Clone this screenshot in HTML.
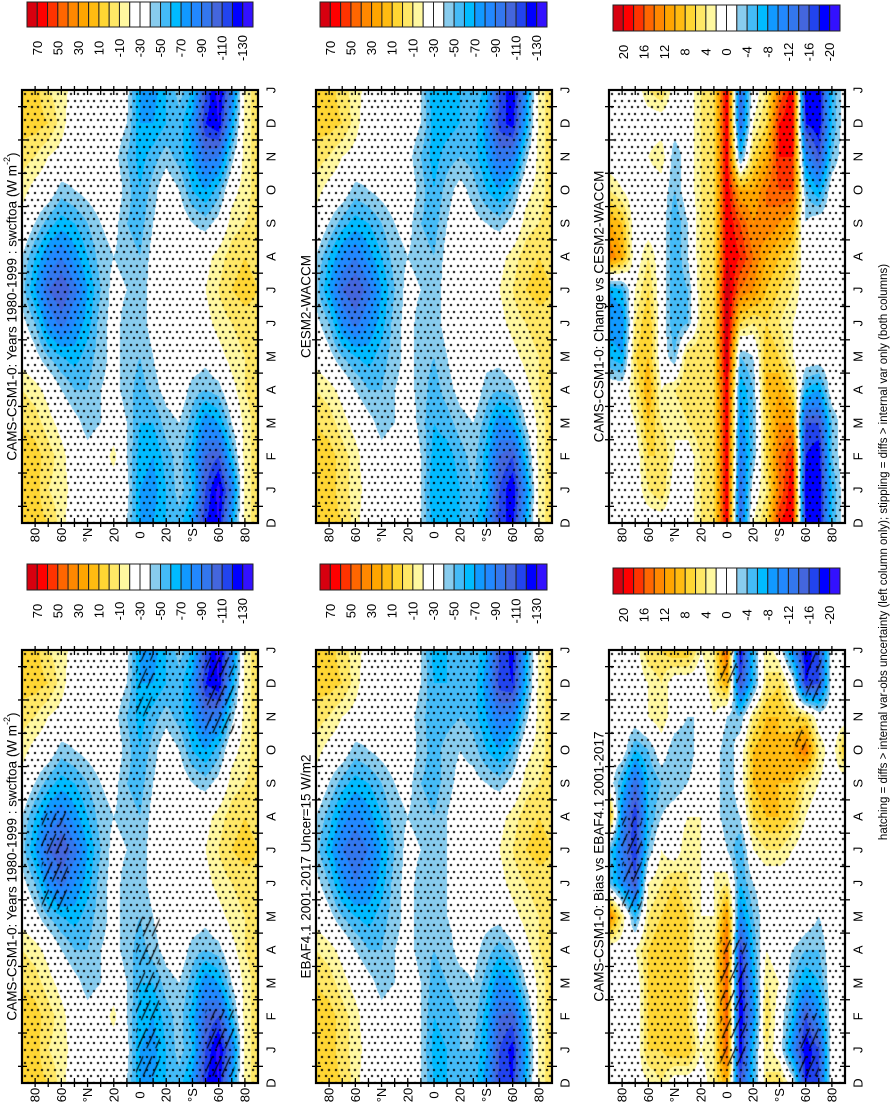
<!DOCTYPE html>
<html><head><meta charset="utf-8">
<style>
html,body{margin:0;padding:0;background:#fff;}
#root{position:relative;width:895px;height:1105px;overflow:hidden;font-family:"Liberation Sans",Arial,sans-serif;}
canvas{position:absolute;}
svg{position:absolute;left:0;top:0;}
</style></head>
<body>
<div id="root">
<canvas id="c0"></canvas>
<canvas id="c1"></canvas>
<canvas id="c2"></canvas>
<canvas id="c3"></canvas>
<canvas id="c4"></canvas>
<canvas id="c5"></canvas>
<svg id="ov" width="895" height="1105"></svg>
</div>
<script>
// ---- data ----
const lats = [90,80,70,60,50,40,30,20,10,0,-10,-20,-30,-40,-50,-60,-70,-80,-90];
const monthLabels = ["D","J","F","M","A","M","J","J","A","S","O","N","D","J"];
const latTickLabels = ["80","60","°N","20","0","20","°S","60","80"];
const latTickValues = [80,60,40,20,0,-20,-40,-60,-80];
const climLevelLabels = ["70","50","30","10","-10","-30","-50","-70","-90","-110","-130"];
const diffLevelLabels = ["20","16","12","8","4","0","-4","-8","-12","-16","-20"];
const palette = ['#d7000f','#ff0000','#ff3300','#ff6600','#ff8800','#ffa500','#ffbb11','#ffd633','#ffe866','#fff8a0','#ffffff','#ffffff','#88ccee','#44bbf7','#00bbff','#1199ff','#2288ff','#3377ee','#4466dd','#2244ee','#0000ff','#3311ff'];

// rows: Jan..Dec ; columns: lats 90N..90S
const camsClim = [
[5,5,-10,-15,-25,-30,-30,-30,-35,-70,-75,-60,-45,-60,-110,-135,-90,-15,-5],
[5,5,-5,-15,-30,-35,-30,-15,-40,-65,-70,-55,-45,-65,-100,-110,-60,-15,-5],
[0,-5,-15,-25,-35,-45,-40,-30,-40,-60,-60,-45,-40,-55,-80,-70,-40,-15,-5],
[-10,-15,-25,-40,-50,-50,-40,-35,-45,-55,-45,-35,-30,-45,-50,-45,-25,-10,-5],
[-25,-35,-50,-60,-65,-55,-45,-35,-45,-50,-40,-30,-30,-30,-35,-25,-15,-10,-5],
[-35,-50,-80,-95,-80,-65,-45,-35,-45,-45,-35,-30,-30,-30,-25,-15,-10,-5,-5],
[-45,-70,-100,-110,-95,-70,-50,-35,-40,-45,-35,-30,-30,-30,-20,-10,0,5,0],
[-40,-60,-80,-90,-75,-60,-45,-40,-45,-50,-35,-30,-30,-30,-25,-15,-5,0,-5],
[-25,-40,-55,-65,-60,-50,-40,-35,-50,-55,-40,-30,-30,-40,-45,-35,-15,-10,-5],
[-15,-25,-30,-45,-40,-35,-30,-30,-45,-60,-45,-30,-40,-60,-70,-55,-25,-15,-5],
[-5,-10,-20,-25,-30,-30,-30,-35,-50,-65,-55,-45,-55,-70,-95,-90,-45,-15,-5],
[5,5,0,-15,-30,-30,-30,-30,-40,-70,-70,-60,-55,-75,-120,-130,-70,-15,-5]
];
const cesmClim = [
[5,5,-5,-15,-25,-30,-30,-30,-40,-70,-70,-60,-50,-65,-110,-130,-80,-15,-5],
[5,5,-5,-15,-30,-35,-30,-20,-40,-65,-65,-55,-45,-65,-100,-110,-60,-15,-5],
[0,-5,-15,-25,-35,-45,-40,-30,-45,-60,-55,-45,-40,-55,-80,-70,-40,-15,-5],
[-10,-15,-25,-40,-50,-50,-40,-35,-45,-55,-45,-35,-30,-45,-50,-45,-25,-10,-5],
[-25,-35,-50,-60,-65,-55,-45,-35,-45,-50,-40,-30,-30,-35,-35,-25,-15,-10,-5],
[-35,-50,-80,-95,-80,-65,-45,-35,-45,-45,-35,-30,-30,-30,-25,-15,-10,-5,-5],
[-45,-70,-100,-110,-95,-70,-50,-35,-40,-45,-35,-30,-30,-30,-20,-10,0,5,0],
[-40,-60,-80,-90,-75,-60,-45,-40,-45,-50,-35,-30,-30,-30,-25,-15,-5,0,-5],
[-25,-40,-55,-65,-60,-50,-40,-35,-50,-55,-40,-30,-35,-40,-45,-35,-15,-10,-5],
[-15,-25,-30,-45,-40,-35,-30,-30,-45,-60,-45,-35,-45,-60,-70,-55,-25,-15,-5],
[-5,-10,-20,-25,-30,-30,-30,-35,-50,-65,-55,-50,-55,-70,-95,-90,-45,-15,-5],
[5,5,0,-15,-30,-30,-30,-30,-40,-65,-65,-60,-55,-75,-115,-125,-70,-15,-5]
];
const ebafClim = [
[5,5,-5,-15,-25,-30,-30,-30,-40,-65,-60,-50,-50,-70,-110,-125,-70,-15,-5],
[5,5,-5,-15,-30,-35,-30,-25,-40,-60,-55,-50,-45,-65,-100,-105,-60,-15,-5],
[0,-5,-15,-25,-35,-45,-40,-30,-40,-55,-50,-45,-40,-55,-80,-70,-40,-15,-5],
[-10,-15,-25,-40,-50,-50,-40,-35,-45,-50,-45,-35,-35,-45,-55,-45,-25,-10,-5],
[-25,-35,-50,-60,-65,-55,-45,-35,-45,-50,-40,-35,-35,-35,-35,-25,-15,-10,-5],
[-35,-50,-75,-90,-80,-65,-45,-35,-45,-45,-40,-35,-30,-30,-25,-15,-10,-5,-5],
[-45,-65,-90,-100,-90,-70,-50,-35,-40,-45,-40,-30,-30,-30,-20,-10,0,5,0],
[-40,-55,-75,-85,-75,-60,-45,-40,-45,-50,-40,-30,-30,-30,-25,-15,-5,0,-5],
[-25,-40,-55,-65,-60,-50,-40,-35,-50,-55,-45,-35,-35,-40,-45,-35,-15,-10,-5],
[-15,-25,-30,-45,-40,-35,-30,-30,-45,-55,-45,-40,-45,-60,-70,-55,-25,-15,-5],
[-5,-10,-20,-25,-30,-30,-30,-35,-45,-60,-55,-50,-55,-70,-90,-85,-45,-15,-5],
[5,5,0,-15,-30,-30,-30,-30,-40,-60,-60,-55,-55,-75,-115,-120,-65,-15,-5]
];
const changeVsCesm = [
[0,0,0,4,6,0,0,4,6,20,-14,0,4,14,20,-20,-20,-6,0],
[0,0,0,6,6,2,0,4,6,20,-12,-4,6,14,18,-18,-20,-4,0],
[0,0,2,8,4,2,4,6,6,20,-10,-4,6,12,12,-16,-16,-4,0],
[0,0,4,10,2,4,6,6,6,20,-8,-4,8,10,6,-6,-8,0,0],
[-6,-8,6,8,0,-4,6,6,6,22,-4,-2,8,6,2,0,0,0,0],
[-10,-10,4,8,0,-6,-4,4,6,22,6,4,6,4,2,0,0,0,0],
[-8,-6,2,6,0,-6,-4,4,6,22,14,12,8,6,4,0,0,0,0],
[14,10,0,4,0,-6,-2,4,6,20,18,14,10,8,6,0,0,0,0],
[10,8,0,0,0,-6,-2,4,6,20,16,12,14,12,10,-2,0,0,0],
[4,2,0,0,0,-4,0,4,6,20,10,10,14,16,16,-4,-8,0,0],
[0,0,0,2,4,-4,0,4,6,20,-6,6,10,18,18,-10,-16,-4,0],
[0,0,0,0,0,0,0,4,6,20,-14,2,6,18,20,-18,-20,-6,0]
];
const biasVsEbaf = [
[0,0,0,6,6,8,8,2,4,16,-20,-6,4,0,-10,-20,-16,0,0],
[0,0,0,6,8,8,6,0,4,16,-20,-10,6,0,-6,-16,-10,0,0],
[0,0,0,6,8,8,6,2,4,16,-20,-8,4,2,-4,-8,-6,0,0],
[0,0,2,6,8,8,6,2,4,16,-18,-6,2,0,-2,-4,-4,0,0],
[14,4,-6,4,6,8,6,2,2,12,-10,-4,0,0,2,0,-2,0,0],
[-4,-10,-16,2,4,6,4,2,2,4,-6,-2,0,0,0,0,0,0,0],
[-4,-12,-18,-4,2,0,4,2,2,-2,-6,2,4,4,2,0,-2,0,0],
[10,-10,-18,-6,-2,0,2,2,0,-4,-2,6,8,8,6,2,0,0,0],
[0,-6,-14,-6,-4,-4,-2,0,0,-4,0,8,10,8,8,4,2,0,0],
[0,0,-6,-4,0,-4,-4,0,0,-4,0,8,10,8,10,14,4,0,8],
[0,0,0,2,4,0,-2,-2,2,-2,-4,4,8,8,6,6,0,0,0],
[0,0,0,2,4,0,0,0,4,10,-16,-6,4,6,0,-18,-16,0,0]
];
// hatch regions: [latNorth, latSouth, tStart, tEnd] (t in months from bottom axis)
const hatchCamsClim = [[75,55,5.2,8.1],[3,-15,0.2,5.0],[-50,-72,0.2,2.2],[-50,-72,10.5,13],[3,-10,11,13]];
const hatchBias = [[80,65,5.2,8.0],[5,-15,0.5,4.3],[-55,-70,0.2,2.1],[5,-10,12,13],[-60,-72,11.5,13],[-52,-60,10,11]];

// ---- layout ----
const PW=236, PH=433;
const colX=[22,316,609], rowY=[90,650];
const panels=[
 {id:'c0',x:colX[0],y:rowY[0],data:camsClim,diff:false,hatch:[],title:"CAMS-CSM1-0: Years 1980-1999 : swcftoa (W m",sup:"-2",close:")",name:'cams-clim'},
 {id:'c1',x:colX[1],y:rowY[0],data:cesmClim,diff:false,hatch:[],title:"CESM2-WACCM",name:'cesm2-clim'},
 {id:'c2',x:colX[2],y:rowY[0],data:changeVsCesm,diff:true,hatch:[],title:"CAMS-CSM1-0: Change vs CESM2-WACCM",name:'change'},
 {id:'c3',x:colX[0],y:rowY[1],data:camsClim,diff:false,hatch:hatchCamsClim,title:"CAMS-CSM1-0: Years 1980-1999 : swcftoa (W m",sup:"-2",close:")",name:'cams-clim-hatched'},
 {id:'c4',x:colX[1],y:rowY[1],data:ebafClim,diff:false,hatch:[],title:"EBAF4.1 2001-2017 Uncer=15 W/m2",name:'ebaf'},
 {id:'c5',x:colX[2],y:rowY[1],data:biasVsEbaf,diff:true,hatch:hatchBias,title:"CAMS-CSM1-0: Bias vs EBAF4.1 2001-2017",name:'bias'}
];
const colorbars=[
 {x:27,y:2,w:226,h:25,diff:false},{x:320,y:2,w:227,h:25,diff:false},{x:613,y:5,w:227,h:26,diff:true},
 {x:27,y:564,w:226,h:26,diff:false},{x:320,y:564,w:227,h:26,diff:false},{x:613,y:568,w:227,h:26,diff:true}
];

function xOfLat(lat){return (90-lat)/180*PW;}
function yOfT(t){return PH - t/13*PH;}
function binIndex(v,diff){
  let i = diff ? Math.floor((22-v)/2) : Math.floor((80-v)/10);
  return Math.max(0,Math.min(21,i));
}
function sample(data,lat,mi){
  let j=(90-lat)/10; j=Math.max(0,Math.min(18,j));
  const j0=Math.min(17,Math.floor(j)), fj=j-j0;
  mi=((mi%12)+12)%12;
  const m0=Math.floor(mi)%12, m1=(m0+1)%12, fm=mi-Math.floor(mi);
  const a=data[m0][j0]*(1-fj)+data[m0][j0+1]*fj;
  const b=data[m1][j0]*(1-fj)+data[m1][j0+1]*fj;
  return a*(1-fm)+b*fm;
}
function hex(c){return [parseInt(c.substr(1,2),16),parseInt(c.substr(3,2),16),parseInt(c.substr(5,2),16)];}
const palRGB=palette.map(hex);

panels.forEach(p=>{
  const cv=document.getElementById(p.id);
  cv.width=PW;cv.height=PH;cv.style.left=p.x+'px';cv.style.top=p.y+'px';
  const ctx=cv.getContext('2d');
  const img=ctx.createImageData(PW,PH);
  for(let py=0;py<PH;py++){
    const t=(PH-py-0.5)/PH*13;
    const mi=t-1;
    for(let px=0;px<PW;px++){
      const lat=90-(px+0.5)/PW*180;
      const v=sample(p.data,lat,mi);
      const c=palRGB[binIndex(v,p.diff)];
      const k=(py*PW+px)*4;
      img.data[k]=c[0];img.data[k+1]=c[1];img.data[k+2]=c[2];img.data[k+3]=255;
    }
  }
  ctx.putImageData(img,0,0);
  ctx.fillStyle='#000';
  let r=0;
  for(let yy=3;yy<PH;yy+=6.6,r++){
    for(let xx=(r%2?3.3:0)+2;xx<PW;xx+=6.6){ctx.fillRect(Math.round(xx),Math.round(yy),2,2);}
  }
  ctx.strokeStyle='#000';ctx.lineWidth=1.1;
  p.hatch.forEach(h=>{
    const x0=xOfLat(h[0]),x1=xOfLat(h[1]),y0=yOfT(h[3]),y1=yOfT(h[2]);
    ctx.save();ctx.beginPath();ctx.rect(x0,y0,x1-x0,y1-y0);ctx.clip();
    for(let s=x0-200;s<x1+20;s+=9){
      for(let yy=y1;yy>y0-30;yy-=28){
        ctx.beginPath();ctx.moveTo(s+(y1-yy)*0.45,yy);ctx.lineTo(s+(y1-yy)*0.45+9,yy-20);ctx.stroke();
      }
    }
    ctx.restore();
  });
});

// ---- SVG overlay ----
const NS='http://www.w3.org/2000/svg';
const svg=document.getElementById('ov');
function el(tag,attrs,parent){const e=document.createElementNS(NS,tag);for(const k in attrs)e.setAttribute(k,attrs[k]);(parent||svg).appendChild(e);return e;}
function rtext(x,y,str,size,anchor,parent){
  const t=el('text',{x:x,y:y,'font-size':size,'text-anchor':anchor||'middle','dominant-baseline':'central',transform:'rotate(-90 '+x+' '+y+')','font-family':'Liberation Sans, Arial, sans-serif',fill:'#000'},parent);
  t.textContent=str;return t;
}
panels.forEach(p=>{
  const g=el('g',{});
  
  
  const fr=el('rect',{x:p.x,y:p.y,width:PW,height:PH,fill:'none',stroke:'#000','stroke-width':2.2},g);
  
  
  for(let lat=80;lat>=-80;lat-=10){
    const x=p.x+xOfLat(lat);
    el('line',{x1:x,y1:p.y-4,x2:x,y2:p.y+5,stroke:'#000','stroke-width':1.3},g);
    el('line',{x1:x,y1:p.y+PH-5,x2:x,y2:p.y+PH+4,stroke:'#000','stroke-width':1.3},g);
  }
  latTickValues.forEach((lat,i)=>{
    const t=rtext(p.x+xOfLat(lat),p.y+PH+12,latTickLabels[i],13,'middle',g);
    
    
  });
  for(let i=0;i<13;i++){
    const y=p.y+yOfT(i+0.5);
    el('line',{x1:p.x+PW-5,y1:y,x2:p.x+PW+5,y2:y,stroke:'#000','stroke-width':1.3},g);
    el('line',{x1:p.x-4,y1:y,x2:p.x+5,y2:y,stroke:'#000','stroke-width':1.3},g);
  }
  monthLabels.forEach((m,i)=>{
    const t=rtext(p.x+PW+13,p.y+yOfT(i),m,13,'middle',g);
    
    
  });
  const tt=rtext(p.x-10,p.y+PH/2,p.title,13.5,'middle',g);
  
  
  if(p.sup){
    const ts=document.createElementNS(NS,'tspan');ts.setAttribute('font-size','9');ts.setAttribute('dy','-5');ts.textContent=p.sup;tt.appendChild(ts);
    const tc=document.createElementNS(NS,'tspan');tc.setAttribute('dy','5');tc.textContent=p.close;tt.appendChild(tc);
  }
});
colorbars.forEach(cb=>{
  const g=el('g',{});
  
  
  const bw=cb.w/22;
  palette.forEach((c,i)=>{
    const r=el('rect',{x:cb.x+i*bw,y:cb.y,width:bw,height:cb.h,fill:c,stroke:'#222','stroke-width':1},g);
    
    
  });
  const labs=cb.diff?diffLevelLabels:climLevelLabels;
  labs.forEach((l,i)=>{
    const t=rtext(cb.x+(2*i+1)*bw,cb.y+cb.h+21,l,13,'middle',g);
    
    
  });
});
const cap=rtext(884,552,"hatching = diffs > internal var-obs uncertainty (left column only); stippling = diffs > internal var only (both columns)",11.5,'middle');


</script>
</body></html>
